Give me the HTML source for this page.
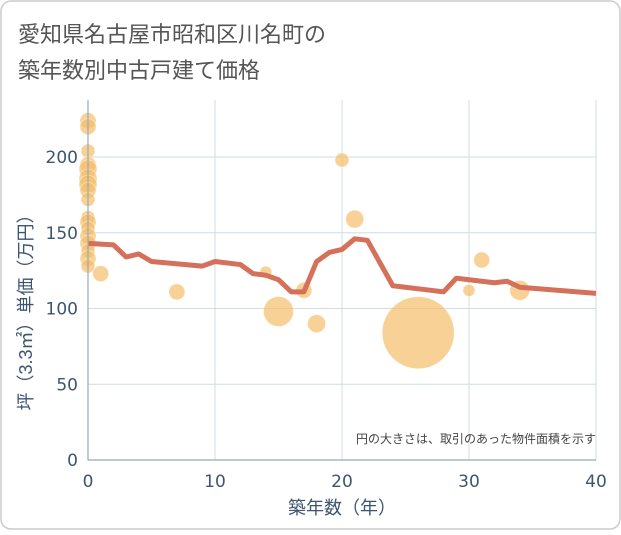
<!DOCTYPE html>
<html><head><meta charset="utf-8"><style>
body{margin:0;background:#fff;font-family:"Liberation Sans","Noto Sans CJK JP",sans-serif;}
#wrap{position:relative;width:621px;height:530px;}
</style></head><body>
<div id="wrap">
<svg width="621" height="530">
<rect x="1" y="1" width="619" height="528" rx="10" fill="#fff" stroke="#ccc" stroke-width="1.5"/>
<text x="18" y="42" font-size="22" fill="#555" font-family="Liberation Sans,Noto Sans CJK JP,sans-serif">愛知県名古屋市昭和区川名町の</text>
<text x="18" y="78" font-size="22" fill="#555" font-family="Liberation Sans,Noto Sans CJK JP,sans-serif">築年数別中古戸建て価格</text>
<g id="grid"></g><g id="bubbles"></g><g id="line"></g><g id="axes"></g>
<text x="596" y="443" font-size="12" fill="#444" text-anchor="end" font-family="Liberation Sans,Noto Sans CJK JP,sans-serif">円の大きさは、取引のあった物件面積を示す</text>
<text x="342" y="514" font-size="18" fill="#3d5570" text-anchor="middle" font-family="Liberation Sans,Noto Sans CJK JP,sans-serif">築年数（年）</text>
<text transform="translate(32,308) rotate(-90)" font-size="18" fill="#3d5570" text-anchor="middle" font-family="Liberation Sans,Noto Sans CJK JP,sans-serif">坪（3.3㎡）単価（万円）</text>
</svg></div>
<script>
const xTicks=[0,10,20,30,40];
const yTicks=[0,50,100,150,200];
const lineYears=[0,2,3,4,5,9,10,12,13,14,15,16,17,18,19,20,21,22,24,27,28,29,30,32,33,34,40];
const lineValues=[143,142,134,136,131,128,131,129,123,122,119,111,111,131,137,139,146,145,115,112,111,120,119,117,118,114,110];
const bubbleYears=[0,0,0,0,0,0,0,0,0,0,0,0,0,0,0,0,0,1,7,14,15,17,18,20,21,26,30,31,34];
const bubbleValues=[224,220,204,195,192,186,182,178,172,160,157,153,148,143,138,133,128,123,111,124,98,112,90,198,159,84,112,132,112];
const bubbleSizes=[8,8,7,8,9,9,9,8,7,7,8,7,8,8,7,8,7,8,8,6,15,8,9,7,9,36,6,8,10];
const X=v=>88+v*(596-88)/40;
const Y=v=>460-v*(460-157)/200;
const NS="http://www.w3.org/2000/svg";
function mk(t,a,p){const e=document.createElementNS(NS,t);for(const k in a)e.setAttribute(k,a[k]);p.appendChild(e);return e;}
const grid=document.getElementById('grid'),axes=document.getElementById('axes');
xTicks.forEach(t=>{
 const l=mk('line',{x1:X(t),x2:X(t),y1:100,y2:460,stroke:'#d0dbe6','stroke-width':1},grid);
 
 
 const tx=mk('text',{x:X(t),y:487,'font-size':17,fill:'#3d5570','text-anchor':'middle','font-family':'DejaVu Sans,sans-serif'},axes);
 tx.textContent=t;
 
 
});
yTicks.forEach(t=>{
 const l=mk('line',{x1:88,x2:596,y1:Y(t),y2:Y(t),stroke:'#d0dbe6','stroke-width':1},grid);
 
 
 const tx=mk('text',{x:78,y:Y(t)+6,'font-size':17,fill:'#3d5570','text-anchor':'end','font-family':'DejaVu Sans,sans-serif'},axes);
 tx.textContent=t;
 
 
});
const ax=mk('path',{d:'M88 100V460H596',fill:'none',stroke:'#9aa9b8','stroke-width':1.2},axes);


const bg=document.getElementById('bubbles');
bubbleYears.forEach((yr,i)=>{
 const c=mk('circle',{cx:X(yr),cy:Y(bubbleValues[i]),r:bubbleSizes[i],fill:'#f3bd6a','fill-opacity':0.7,stroke:'#fff','stroke-opacity':0.4},bg);
 
 
});
const p=mk('polyline',{points:lineYears.map((yr,i)=>X(yr)+','+Y(lineValues[i])).join(' '),fill:'none',stroke:'#d5705a','stroke-width':5,'stroke-linejoin':'round'},document.getElementById('line'));


</script>
</body></html>
